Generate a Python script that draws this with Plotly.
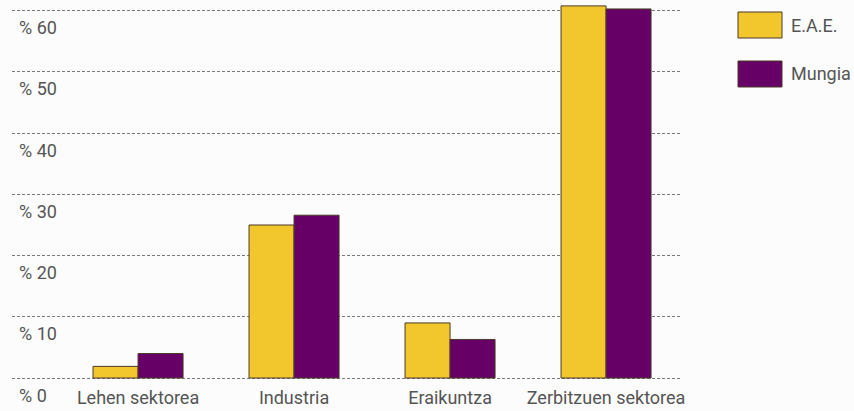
import plotly.graph_objects as go

categories = ["Lehen sektorea", "Industria", "Eraikuntza", "Zerbitzuen sektorea"]
series_names = ["E.A.E.", "Mungia"]
eae_values = [1.9, 25.0, 9.0, 60.8]
mungia_values = [4.0, 26.6, 6.3, 60.3]
tick_values = [0, 10, 20, 30, 40, 50, 60]
tick_labels = ["% 0", "% 10", "% 20", "% 30", "% 40", "% 50", "% 60"]

colors = ["#F2C72E", "#660066"]
W, H = 854, 411
ml, mr, mt, mb = 12, 174, 0, 26
pw, ph = W - ml - mr, H - mt - mb

fig = go.Figure()
for name, vals, col in zip(series_names, [eae_values, mungia_values], colors):
    fig.add_trace(go.Bar(
        x=categories, y=vals, name=name, marker_color=col,
        marker_line=dict(color="#4a3a28", width=1), showlegend=False,
    ))

font = dict(family="Roboto, sans-serif", size=18, color="#555555")

fig.update_layout(
    width=W, height=H,
    margin=dict(l=ml, r=mr, t=mt, b=mb, autoexpand=False),
    paper_bgcolor="#fcfcfc", plot_bgcolor="#fcfcfc",
    barmode="group", bargap=0.423, bargroupgap=0,
    font=font,
    xaxis=dict(range=[-0.808, 3.474], showgrid=False, zeroline=False,
               showline=False, ticks="", tickfont=font, automargin=False,
               ticklabelstandoff=0),
    yaxis=dict(range=[-1.14, 61.76], tickvals=tick_values,
               showgrid=True, gridcolor="#7a7a7a", griddash="3px,2px", gridwidth=1,
               zeroline=False, showline=False, ticks="", showticklabels=False,
               automargin=False),
)

def px_x(p):
    return (p - ml) / pw
def px_y(p):
    return (ph + mt - p) / ph

# y tick labels, placed under their gridlines as in the original
for v, lab in zip(tick_values, tick_labels):
    fig.add_annotation(xref="paper", yref="y", x=px_x(17), y=v, yshift=-17,
                       text=lab, showarrow=False, xanchor="left", yanchor="middle",
                       font=font)

# custom legend with large swatches
legend_rows = [(12, 38), (61, 87)]
for name, col, (y0, y1) in zip(series_names, colors, legend_rows):
    fig.add_shape(type="rect", xref="paper", yref="paper",
                  x0=px_x(738), x1=px_x(782), y0=px_y(y1), y1=px_y(y0),
                  fillcolor=col, line=dict(color="#4a3a28", width=1))
    fig.add_annotation(xref="paper", yref="paper", x=px_x(789), y=px_y((y0 + y1) / 2),
                       text=name, showarrow=False, xanchor="left", yanchor="middle",
                       font=font)

fig.write_html("out.html", config={"displayModeBar": False},
               post_script="document.body.style.margin='0';document.body.style.overflow='hidden';")
